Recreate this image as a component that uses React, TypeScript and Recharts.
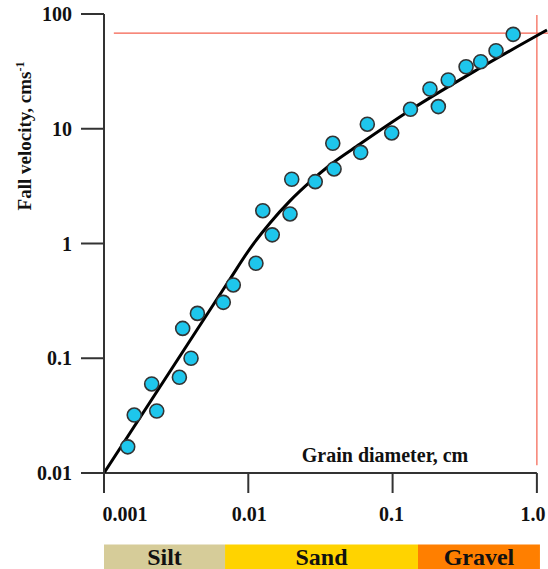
import React from 'react';
import {
  ComposedChart,
  Scatter,
  Line,
  XAxis,
  YAxis,
  ReferenceLine,
  ReferenceArea
} from 'recharts';

// measured samples (grain diameter in cm, fall velocity in cm/s)
const sampleDiameter = [
  0.00146, 0.00162, 0.00214, 0.00232, 0.00333, 0.00351, 0.00401, 0.00444,
  0.00671, 0.00787, 0.0113, 0.0126, 0.01465, 0.01946, 0.02, 0.0291, 0.0393,
  0.0385, 0.0601, 0.0668, 0.0986, 0.133, 0.1815, 0.2075, 0.243, 0.323, 0.408,
  0.521, 0.685
];
const sampleVelocity = [
  0.0169, 0.032, 0.0597, 0.0347, 0.0682, 0.182, 0.1, 0.246, 0.307, 0.435,
  0.672, 1.93, 1.19, 1.81, 3.63, 3.46, 4.46, 7.47, 6.23, 10.96, 9.19, 14.77,
  22.2, 15.6, 26.6, 34.7, 38.4, 47.9, 66.5
];

// fitted curve
const curveDiameter = [
  0.001, 0.00747, 0.01028, 0.01414, 0.01945, 0.02677, 0.03684, 0.0594, 0.133,
  0.4034, 1.175
];
const curveVelocity = [
  0.01, 0.49, 0.904, 1.509, 2.35, 3.44, 4.83, 7.36, 14.57, 33.8, 72.5
];

const xTicks = [0.001, 0.01, 0.1, 1];
const xTickLabels = ['0.001', '0.01', '0.1', '1.0'];
const yTicks = [0.01, 0.1, 1, 10, 100];
const yTickLabels = ['0.01', '0.1', '1', '10', '100'];

const grainClasses = ['Silt', 'Sand', 'Gravel'];
const classLimits = [0.001, 0.0069, 0.15, 1.05];

const refDiameter = 1;
const refVelocity = 68;

const FONT = '"Liberation Serif", "Times New Roman", serif';
const AXIS = '#333';
const RED = '#F4604E';
const classColors = ['#D6CC99', '#FFD300', '#FF7F00'];
const xTickShift = [21, 1, -1, -4];

const samples = sampleDiameter.map((d, i) => ({ d, v: sampleVelocity[i] }));
const curve = curveDiameter.map((d, i) => ({ d, v: curveVelocity[i] }));

const XTick = (props: any) => {
  const { x, y, payload, index } = props;
  const i = xTicks.indexOf(payload.value);
  return (
    <text
      x={x + (xTickShift[i] ?? 0)}
      y={y}
      dy="0.71em"
      textAnchor="middle"
      fill="#111"
      fontSize={20}
      fontWeight="bold"
      fontFamily={FONT}
    >
      {xTickLabels[i] ?? index}
    </text>
  );
};

const YTick = (props: any) => {
  const { x, y, payload } = props;
  const i = yTicks.indexOf(payload.value);
  return (
    <text
      x={x}
      y={y}
      dy="0.355em"
      textAnchor="end"
      fill="#111"
      fontSize={20}
      fontWeight="bold"
      fontFamily={FONT}
    >
      {yTickLabels[i]}
    </text>
  );
};

const Dot = (props: any) => (
  <circle cx={props.cx} cy={props.cy} r={7} fill="#1EC6EC" stroke="#333" strokeWidth={1.6} />
);

export default function App() {
  return (
    <div style={{ position: 'absolute', left: 0, top: 0, width: 548, height: 569, background: '#fff' }}>
      <ComposedChart
        width={548}
        height={569}
        margin={{ top: 14, right: 0, bottom: 0, left: 0 }}
      >
        <XAxis
          type="number"
          dataKey="d"
          scale="log"
          domain={[0.001, 1.194]}
          allowDataOverflow
          ticks={xTicks}
          height={96}
          axisLine={false}
          tickLine={{ stroke: AXIS, strokeWidth: 2 }}
          tickSize={20}
          tickMargin={14}
          tick={<XTick />}
          label={{
            content: () => (
              <text x={385} y={462} textAnchor="middle" fill="#111" fontSize={20} fontWeight="bold" fontFamily={FONT}>
                Grain diameter, cm
              </text>
            )
          }}
        />
        <YAxis
          type="number"
          dataKey="v"
          scale="log"
          domain={[0.01, 100]}
          allowDataOverflow
          ticks={yTicks}
          width={104}
          axisLine={{ stroke: AXIS, strokeWidth: 2 }}
          tickLine={{ stroke: AXIS, strokeWidth: 2 }}
          tickSize={23}
          tickMargin={9}
          tick={<YTick />}
          label={{
            content: () => (
              <text
                x={31}
                y={136}
                transform="rotate(-90, 31, 136)"
                textAnchor="middle"
                fill="#111"
                fontSize={19}
                fontWeight="bold"
                fontFamily={FONT}
              >
                Fall velocity, cms
                <tspan dy={-7} fontSize={12}>-1</tspan>
              </text>
            )
          }}
        />

        {/* x axis line stops at 1.0 */}
        <ReferenceLine
          segment={[{ x: 0.001, y: 0.01 }, { x: 1, y: 0.01 }]}
          stroke={AXIS}
          strokeWidth={2}
          ifOverflow="visible"
        />

        <ReferenceLine
          segment={[{ x: 0.00117, y: refVelocity }, { x: 1.194, y: refVelocity }]}
          stroke={RED}
          strokeWidth={1.2}
          ifOverflow="visible"
        />
        <ReferenceLine
          segment={[{ x: refDiameter, y: 98 }, { x: refDiameter, y: 0.0117 }]}
          stroke={RED}
          strokeWidth={1.2}
          ifOverflow="visible"
        />

        {grainClasses.map((name, i) => (
          <ReferenceArea
            key={name}
            x1={classLimits[i]}
            x2={classLimits[i + 1]}
            y1={0.00238}
            y2={0.00146}
            fill={classColors[i]}
            fillOpacity={1}
            stroke="none"
            ifOverflow="visible"
            label={{
              value: name,
              position: 'center',
              fill: '#111',
              fontSize: 24,
              fontWeight: 'bold',
              fontFamily: FONT
            }}
          />
        ))}

        <Scatter data={samples} dataKey="v" shape={<Dot />} isAnimationActive={false} />
        <Line
          data={curve}
          dataKey="v"
          type="monotone"
          stroke="#000"
          strokeWidth={3}
          dot={false}
          activeDot={false}
          isAnimationActive={false}
        />
      </ComposedChart>
    </div>
  );
}
